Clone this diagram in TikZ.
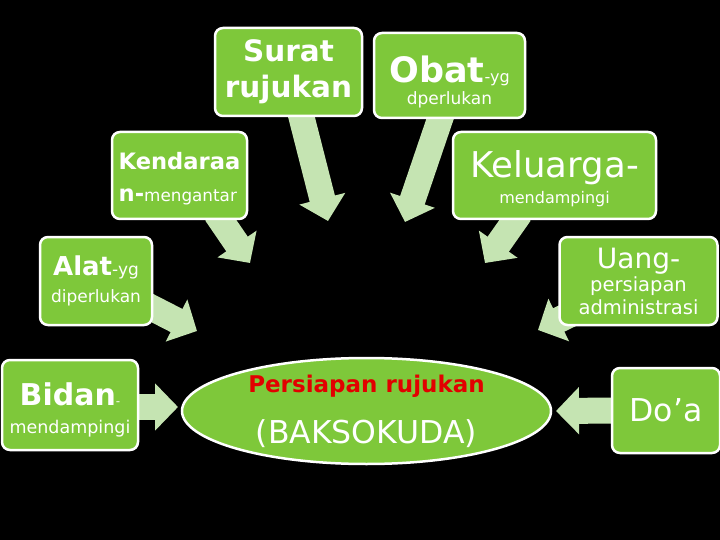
\documentclass[tikz,border=0pt]{standalone}
\usepackage{fontspec}
\setmainfont{DejaVu Sans}
\usetikzlibrary{shapes.geometric,arrows.meta,backgrounds}
\definecolor{boxgreen}{RGB}{126,200,58}
\definecolor{arrowgreen}{RGB}{197,228,178}
\definecolor{titlered}{RGB}{226,0,0}
\newcommand{\fs}[2]{\fontsize{#1}{#2}\selectfont}
\newcommand{\lift}[1]{\rule{0pt}{#1}}
\begin{document}
\begin{tikzpicture}[x=1pt,y=-1pt,
  box/.style={draw=white, line width=2.5pt, fill=boxgreen, rounded corners=8pt,
    text=white, align=center, inner sep=0pt},
  blockarrow/.style={draw=arrowgreen, line width=26pt,
    -{Triangle[width=46pt,length=23pt]}}]
\useasboundingbox (0,0) rectangle (720,540);

% boxes
\node[box, minimum width=147pt, minimum height=88pt, font=\fs{29.5}{36}\bfseries]
  (surat) at (288.5,72) {Surat\\rujukan};
\node[box, minimum width=151pt, minimum height=85pt, font=\fs{17}{22}]
  (obat) at (449.5,75.5) {\lift{40pt}{\fs{35}{35}\bfseries Obat}{\fs{16}{16}-yg}\\dperlukan};
\node[box, minimum width=135pt, minimum height=87pt, font=\fs{16.8}{32}, align=left]
  (kendaraan) at (179.5,175.5) {\lift{23pt}{\fs{22.6}{25}\bfseries Kendaraa}\\{\fs{22.6}{25}\bfseries n-}mengantar};
\node[box, minimum width=203pt, minimum height=87pt, font=\fs{16}{26}]
  (keluarga) at (554.5,175.5) {\lift{33pt}{\fs{35.5}{36}Keluarga-}\\mendampingi};
\node[box, minimum width=112pt, minimum height=88pt, font=\fs{17}{27}]
  (alat) at (96,281) {{\fs{26}{26}\bfseries Alat}-yg\\diperlukan};
\node[box, minimum width=158pt, minimum height=88pt, font=\fs{19.5}{23}]
  (uang) at (638.5,281) {{\fs{28}{28}Uang-}\\persiapan\\administrasi};
\node[box, minimum width=136pt, minimum height=90pt, font=\fs{17.5}{28}]
  (bidan) at (70,405) {\lift{32pt}{\fs{30}{30}\bfseries Bidan}{\fs{12}{12}-}\\mendampingi};
\node[box, minimum width=108pt, minimum height=85pt, font=\fs{31.5}{36}]
  (doa) at (666,410.5) {Do’a};

% central ellipse
\node[ellipse, draw=white, line width=2.5pt, fill=boxgreen, minimum width=369pt,
  minimum height=106pt, inner sep=0pt, align=center, text=white, font=\fs{31.5}{51}]
  (ell) at (366.5,411) {{\fs{23}{23}\bfseries\color{titlered}Persiapan rujukan}\\(BAKSOKUDA)};

% arrow tips
\coordinate (tA) at (328,221);
\coordinate (tB) at (405,222);
\coordinate (tC) at (250,263);
\coordinate (tD) at (485,263);
\coordinate (tE) at (197,331);
\coordinate (tF) at (538,330);
\coordinate (tG) at (178,407);
\coordinate (tH) at (556,411);

\begin{pgfonlayer}{background}
\fill[black] (0,0) rectangle (720,540);
\draw[blockarrow] ([xshift=11.5pt,yshift=6pt]surat.south) -- (tA);
\draw[blockarrow] ([xshift=-7.5pt,yshift=6pt]obat.south) -- (tB);
\draw[blockarrow] ([xshift=36.5pt,yshift=7pt]kendaraan.south) -- (tC);
\draw[blockarrow] ([xshift=-34.5pt,yshift=7pt]keluarga.south) -- (tD);
\draw[blockarrow] ([xshift=-7pt,yshift=-24pt]alat.east) -- (tE);
\draw[blockarrow] ([xshift=20.5pt,yshift=16pt]uang.south west) -- (tF);
\draw[blockarrow] ([xshift=-8pt,yshift=-2pt]bidan.east) -- (tG);
\draw[blockarrow] ([xshift=8pt]doa.west) -- (tH);
\end{pgfonlayer}
\end{tikzpicture}
\end{document}
